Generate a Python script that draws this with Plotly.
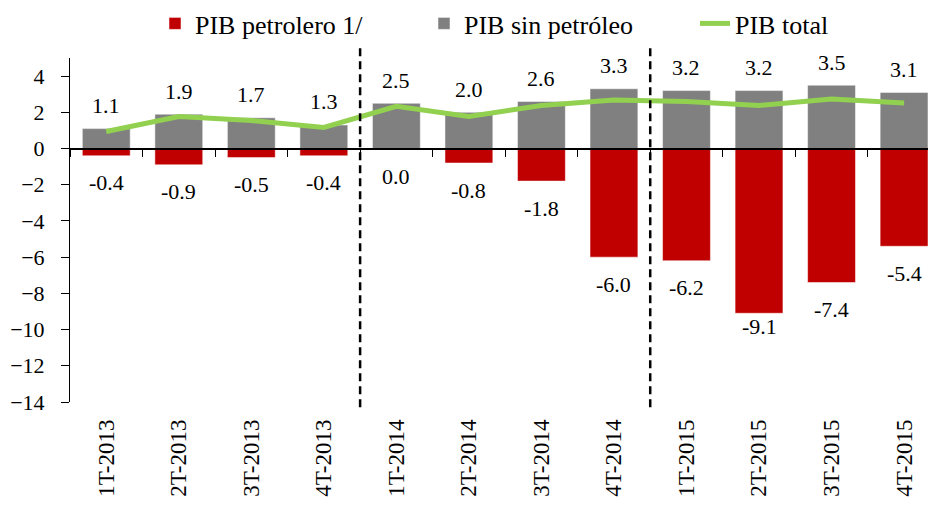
import plotly.graph_objects as go

categories = ["1T-2013", "2T-2013", "3T-2013", "4T-2013",
              "1T-2014", "2T-2014", "3T-2014", "4T-2014",
              "1T-2015", "2T-2015", "3T-2015", "4T-2015"]
pib_petrolero = [-0.4, -0.9, -0.5, -0.4, -0.04, -0.8, -1.8, -6.0, -6.2, -9.1, -7.4, -5.4]
pib_sin_petroleo = [1.1, 1.9, 1.7, 1.3, 2.5, 2.0, 2.6, 3.3, 3.2, 3.2, 3.5, 3.1]
pib_total = [0.94, 1.77, 1.55, 1.16, 2.33, 1.77, 2.38, 2.68, 2.6, 2.38, 2.73, 2.52]
year_breaks = [3.5, 7.5]

FONT = "Liberation Serif, Times New Roman, serif"
Y_MIN, Y_MAX = -14, 5
# small manual nudges for crowded labels (px)
label_nudge = {"2T-2015": 14}

def fmt(v):
    r = round(v, 1)
    return f"{abs(r):.1f}" if r == 0 else f"{r:.1f}"

fig = go.Figure()
fig.add_trace(go.Bar(x=categories, y=pib_petrolero, name="PIB petrolero 1/", legend="legend",
                     marker=dict(color="#C00000", line=dict(color="rgba(255,255,255,0.5)", width=1))))
fig.add_trace(go.Bar(x=categories, y=pib_sin_petroleo, name="PIB sin petróleo", legend="legend2",
                     marker=dict(color="#808080", line=dict(color="rgba(255,255,255,0.5)", width=1))))
fig.add_trace(go.Scatter(x=categories, y=pib_total, name="PIB total", mode="lines", legend="legend3",
                         line=dict(color="#92D050", width=5)))
# invisible trace to carry the zero-line category axis
fig.add_trace(go.Scatter(x=categories, y=[0] * len(categories), xaxis="x2", mode="lines",
                         line=dict(width=0), showlegend=False, hoverinfo="skip"))

annotations = []
for c, v in zip(categories, pib_sin_petroleo):
    annotations.append(dict(x=c, y=v, xref="x", yref="y", text=fmt(v), showarrow=False,
                            yanchor="middle", yshift=23, font=dict(family=FONT, size=22, color="black")))
for c, v in zip(categories, pib_petrolero):
    annotations.append(dict(x=c, y=v, xref="x", yref="y", text=fmt(v), showarrow=False,
                            yanchor="middle", yshift=-27 + label_nudge.get(c, 0),
                            font=dict(family=FONT, size=22, color="black")))

shapes = [dict(type="line", xref="x", yref="paper", x0=b, x1=b, y0=-0.015, y1=1.038,
               line=dict(color="black", width=2.5, dash="8px,5px")) for b in year_breaks]

zero_pos = (0 - Y_MIN) / (Y_MAX - Y_MIN)

def leg(xpx):
    return dict(orientation="h", xref="container", x=xpx / 928, xanchor="left",
                yref="container", y=1.0, yanchor="top",
                font=dict(family=FONT, size=26, color="black"), bgcolor="rgba(0,0,0,0)")

fig.update_layout(
    width=928, height=508,
    margin=dict(l=70, r=0, t=58, b=106, autoexpand=False),
    paper_bgcolor="white", plot_bgcolor="white",
    barmode="relative", bargap=0.34,
    font=dict(family=FONT, size=21, color="black"),
    showlegend=True,
    legend=leg(155), legend2=leg(424), legend3=leg(695),
    xaxis=dict(type="category", range=[-0.5, 11.33], showline=False, showgrid=False,
               zeroline=False, ticks="", tickangle=-90, ticklabelstandoff=12,
               tickfont=dict(family=FONT, size=23, color="black")),
    xaxis2=dict(type="category", matches="x", overlaying="x", anchor="free", position=zero_pos,
                showline=True, linecolor="black", linewidth=1.5, ticks="outside",
                tickson="boundaries", ticklen=8, tickcolor="black", tickwidth=1,
                showticklabels=False, showgrid=False, zeroline=False),
    yaxis=dict(range=[Y_MIN, Y_MAX], tickvals=list(range(-14, 5, 2)), showline=True,
               linecolor="black", linewidth=1, ticks="outside", ticklen=8, tickcolor="black",
               showgrid=False, zeroline=False, ticklabelstandoff=12,
               tickfont=dict(family=FONT, size=22, color="black")),
    annotations=annotations,
    shapes=shapes,
)

fig.write_html("out.html", config={"displayModeBar": False},
               post_script="document.body.style.margin='0';")
